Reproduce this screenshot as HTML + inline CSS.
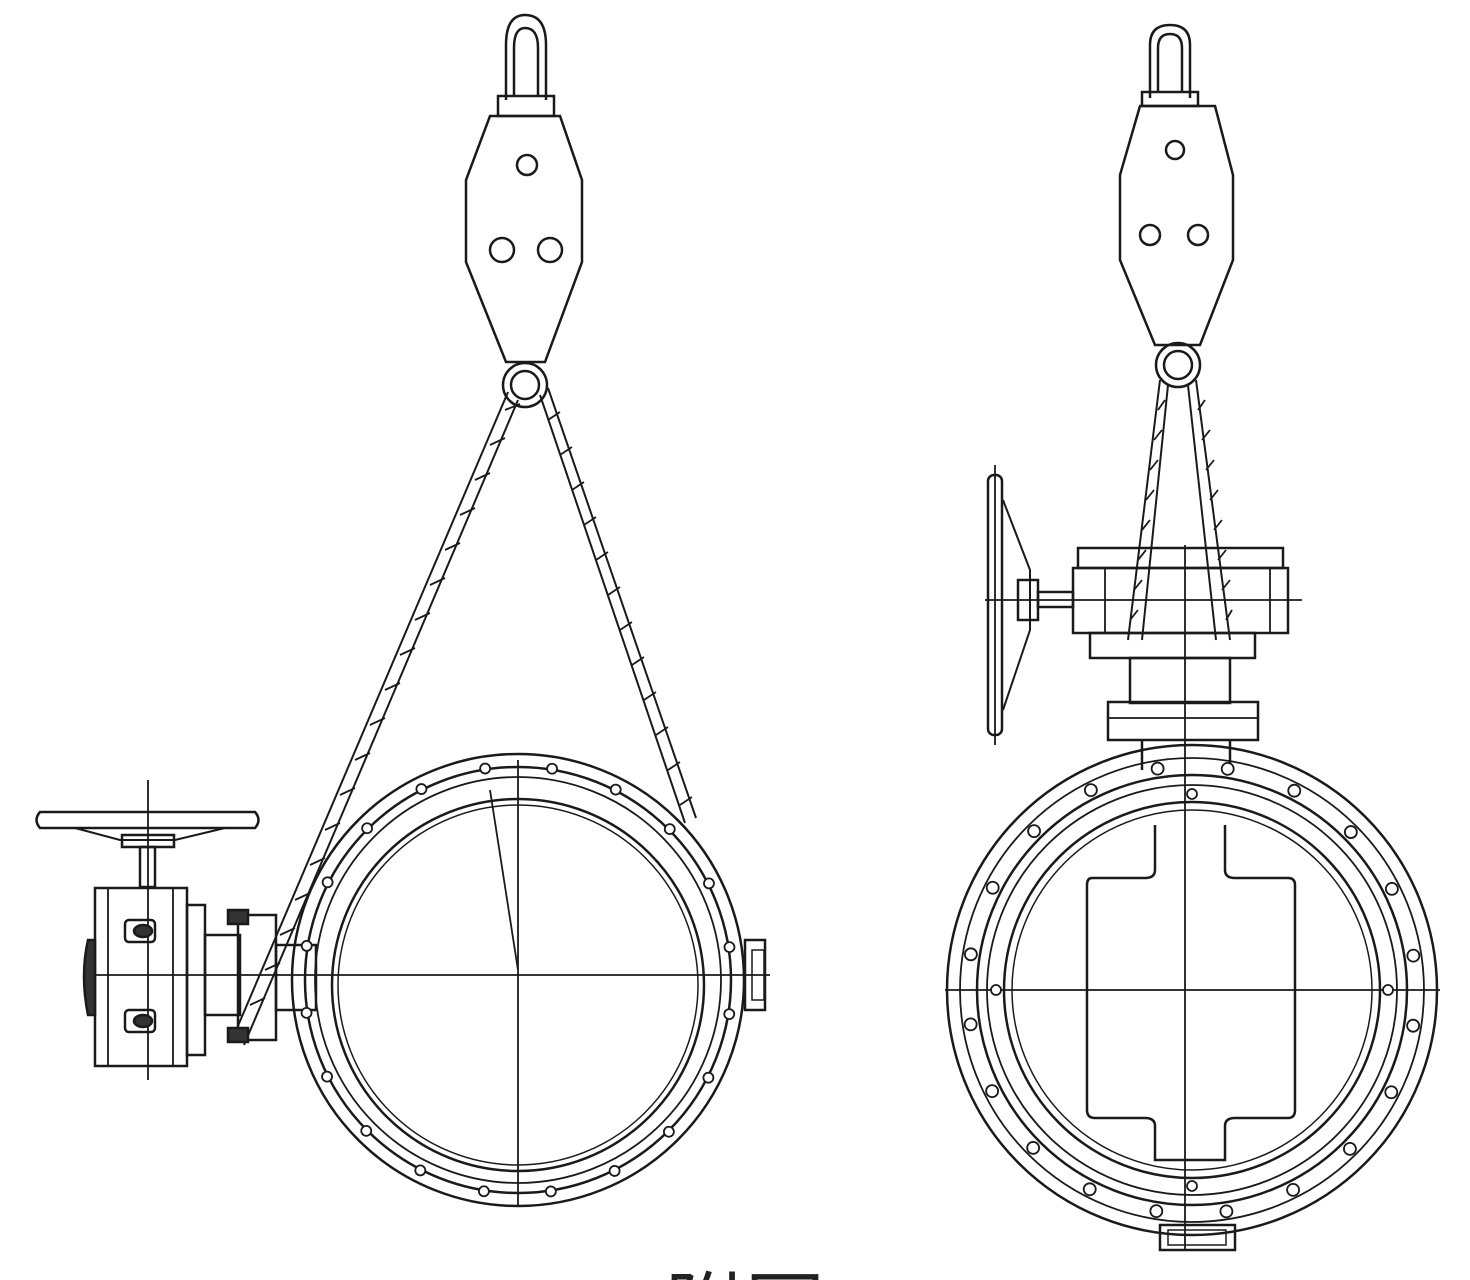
<!DOCTYPE html>
<html><head><meta charset="utf-8"><style>
html,body{margin:0;padding:0;background:#fff;width:1470px;height:1280px;overflow:hidden;}
svg{display:block;overflow:hidden}
</style></head><body>
<svg id="s" width="1470" height="1280" viewBox="0 0 1470 1280" xmlns="http://www.w3.org/2000/svg" fill="none" stroke="#1a1a1a" stroke-width="2.5">
<path d="M506 45 Q506 15 525 15 Q546 15 546 45 L546 100 M506 45 L506 100 M514 48 Q514 28 525 28 Q538 28 538 48 L538 95 M514 48 L514 95"/>
<rect x="498" y="96" width="56" height="20"/>
<path d="M490 116 L560 116 L582 180 L582 262 L545 362 L506 362 L466 262 L466 180 Z"/>
<circle cx="527" cy="165" r="10"/>
<circle cx="502" cy="250" r="12"/><circle cx="550" cy="250" r="12"/>
<circle cx="525" cy="385" r="22"/><circle cx="525" cy="385" r="14"/>
<path d="M508 392 L232 1040 M518 400 L244 1045" stroke-width="2"/>
<path d="M540 395 L685 823 M548 388 L696 818" stroke-width="2"/>
<path d="M505 410 L520 404 M490 445 L505 438 M475 480 L490 473 M460 515 L475 508 M445 550 L460 543 M430 585 L445 578 M415 620 L430 613 M400 655 L415 648 M385 690 L400 683 M370 725 L385 718 M355 760 L370 753 M340 795 L355 788 M325 830 L340 823 M310 865 L325 858 M295 900 L310 893 M280 935 L295 928 M265 970 L280 963 M250 1005 L265 998" stroke-width="1.8"/>
<path d="M548 420 L560 412 M560 455 L572 447 M572 490 L584 482 M584 525 L596 517 M596 560 L608 552 M608 595 L620 587 M620 630 L632 622 M632 665 L644 657 M644 700 L656 692 M656 735 L668 727 M668 770 L680 762 M680 805 L692 797" stroke-width="1.8"/>
<circle cx="518" cy="980" r="226"/>
<circle cx="518" cy="980" r="213"/>
<circle cx="518" cy="980" r="203" stroke-width="1.8"/>
<circle cx="518" cy="985" r="186"/>
<circle cx="518" cy="985" r="180" stroke-width="1.5"/>
<path d="M85 975 L770 975 M518 760 L518 1205" stroke-width="1.8"/>
<path d="M490 790 L518 970" stroke-width="1.8"/>
<rect x="745" y="940" width="20" height="70"/><rect x="752" y="950" width="12" height="50" stroke-width="1.5"/>
<path d="M40 812 L255 812 Q262 820 255 828 L40 828 Q33 820 40 812 Z"/>
<path d="M75 828 L120 840 L175 840 L225 828" stroke-width="2"/>
<rect x="122" y="835" width="52" height="12"/>
<path d="M148 780 L148 1080" stroke-width="1.8"/>
<rect x="140" y="847" width="15" height="40"/>
<rect x="95" y="888" width="92" height="178"/>
<rect x="108" y="888" width="65" height="178" stroke-width="1.8"/>
<path d="M88 940 Q80 975 88 1015 L95 1015 L95 940 Z" fill="#333"/>
<rect x="125" y="920" width="30" height="22" rx="4"/><rect x="125" y="1010" width="30" height="22" rx="4"/>
<ellipse cx="143" cy="931" rx="9" ry="6" fill="#333"/><ellipse cx="143" cy="1021" rx="9" ry="6" fill="#333"/>
<rect x="187" y="905" width="18" height="150"/>
<rect x="205" y="935" width="35" height="80"/>
<rect x="238" y="915" width="38" height="125"/>
<rect x="276" y="945" width="40" height="65"/>
<rect x="228" y="910" width="20" height="14" fill="#333"/><rect x="228" y="1028" width="20" height="14" fill="#333"/>
<path d="M1150 45 Q1150 25 1170 25 Q1190 25 1190 45 L1190 98 M1150 45 L1150 98 M1158 48 Q1158 34 1170 34 Q1182 34 1182 48 L1182 92 M1158 48 L1158 92"/>
<rect x="1142" y="92" width="56" height="14"/>
<path d="M1140 106 L1215 106 L1233 175 L1233 260 L1200 345 L1155 345 L1120 260 L1120 175 Z"/>
<circle cx="1175" cy="150" r="9"/>
<circle cx="1150" cy="235" r="10"/><circle cx="1198" cy="235" r="10"/>
<circle cx="1178" cy="365" r="22"/><circle cx="1178" cy="365" r="14"/>
<path d="M1160 380 L1128 640 M1168 385 L1142 640 M1196 380 L1230 640 M1188 385 L1216 640" stroke-width="2"/>
<path d="M1158 410 L1165 400 M1154 440 L1162 430 M1150 470 L1158 460 M1146 500 L1154 490 M1142 530 L1150 520 M1138 560 L1146 550 M1134 590 L1142 580 M1130 620 L1138 610 M1198 410 L1205 400 M1202 440 L1210 430 M1206 470 L1214 460 M1210 500 L1218 490 M1214 530 L1222 520 M1218 560 L1226 550 M1222 590 L1230 580 M1226 620 L1232 610" stroke-width="1.8"/>
<path d="M995 465 L995 745" stroke-width="1.8"/>
<rect x="988" y="475" width="14" height="260" rx="6"/>
<path d="M1003 500 L1030 570 L1030 630 L1003 710" stroke-width="2"/>
<rect x="1018" y="580" width="20" height="40"/>
<rect x="1038" y="592" width="35" height="15"/>
<path d="M985 600 L1302 600" stroke-width="1.8"/>
<rect x="1078" y="548" width="205" height="20"/>
<rect x="1073" y="568" width="215" height="65"/>
<rect x="1090" y="633" width="165" height="25"/>
<path d="M1105 568 L1105 633 M1270 568 L1270 633" stroke-width="1.8"/>
<path d="M1185 545 L1185 1250" stroke-width="1.8"/>
<rect x="1130" y="658" width="100" height="45"/>
<rect x="1108" y="702" width="150" height="38"/>
<path d="M1108 718 L1258 718" stroke-width="1.8"/>
<path d="M1142 740 L1142 770 M1230 740 L1230 770"/>
<circle cx="1192" cy="990" r="245"/>
<circle cx="1192" cy="990" r="232" stroke-width="1.8"/>
<circle cx="1192" cy="990" r="215"/>
<circle cx="1192" cy="990" r="205" stroke-width="1.8"/>
<circle cx="1192" cy="990" r="188"/>
<circle cx="1192" cy="990" r="180" stroke-width="1.5"/>
<path d="M945 990 L1440 990" stroke-width="1.8"/>
<path d="M1155 825 L1155 870 Q1155 878 1145 878 L1092 878 Q1087 878 1087 885 L1087 1110 Q1087 1118 1095 1118 L1145 1118 Q1155 1118 1155 1126 L1155 1160 L1225 1160 L1225 1126 Q1225 1118 1235 1118 L1288 1118 Q1295 1118 1295 1110 L1295 885 Q1295 878 1288 878 L1235 878 Q1225 878 1225 870 L1225 825"/>
<rect x="1160" y="1225" width="75" height="25"/><rect x="1168" y="1230" width="58" height="15" stroke-width="1.5"/>
<g id="bolts" fill="#fff" stroke-width="1.8"></g>
<text x="665" y="1338" font-family="'Liberation Sans','Noto Sans CJK SC',sans-serif" font-size="80" fill="#222" stroke="none">附图 2</text>
</svg>
<script>
var g=document.getElementById('bolts'),ns='http://www.w3.org/2000/svg';
function ring(cx,cy,r,n,off,rr){for(var i=0;i<n;i++){var a=off+i*2*Math.PI/n;var c=document.createElementNS(ns,'circle');c.setAttribute('cx',cx+r*Math.cos(a));c.setAttribute('cy',cy+r*Math.sin(a));c.setAttribute('r',rr);g.appendChild(c);}}
ring(518,980,214,20,0.16,5);
ring(1192,990,224,20,0.16,6);
ring(1192,990,196,4,-Math.PI/2,5);
</script>
</body></html>
